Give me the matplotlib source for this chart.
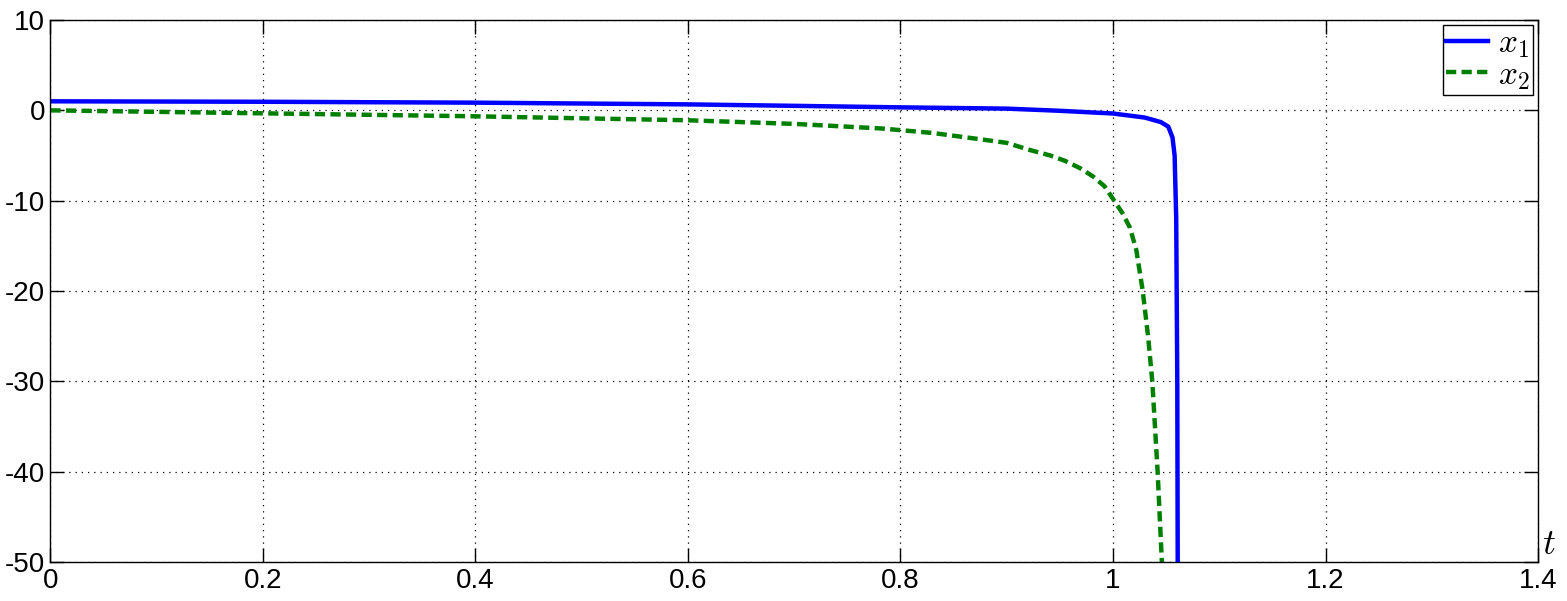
import numpy as np
import matplotlib.pyplot as plt

plt.rcParams['font.family'] = ['Liberation Sans', 'DejaVu Sans']
plt.rcParams['mathtext.fontset'] = 'cm'
plt.rcParams['axes.unicode_minus'] = False

# x1 (сплошная синяя)
t1 = [0.0, 0.2, 0.4, 0.6, 0.7, 0.8, 0.9, 0.95, 1.0, 1.03, 1.045, 1.052, 1.056, 1.058, 1.0595, 1.0605, 1.061]
x1 = [1.0, 0.95, 0.85, 0.66, 0.5, 0.33, 0.19, -0.05, -0.35, -0.8, -1.3, -1.8, -3.0, -5.0, -12.0, -30.0, -55.0]

# x2 (пунктир зелёный)
t2 = [0.0, 0.2, 0.4, 0.6, 0.7, 0.781, 0.83, 0.875, 0.9, 0.922, 0.941, 0.955, 0.969, 0.981, 0.992,
      1.0, 1.009, 1.016, 1.022, 1.028, 1.033, 1.037, 1.042, 1.046, 1.047]
x2 = [0.0, -0.33, -0.66, -1.1, -1.5, -2.0, -2.5, -3.2, -3.6, -4.4, -5.0, -5.6, -6.4, -7.3, -8.4,
      -9.8, -11.4, -13.0, -15.5, -20.0, -25.0, -30.0, -40.0, -50.0, -55.0]

xticks = [0, 0.2, 0.4, 0.6, 0.8, 1, 1.2, 1.4]
xticklabels = ['0', '0.2', '0.4', '0.6', '0.8', '1', '1.2', '1.4']
yticks = [-50, -40, -30, -20, -10, 0, 10]

fig = plt.figure(figsize=(15.67, 6.01), dpi=100)
ax = fig.add_axes([0.0322, 0.0649, 0.9493, 0.9018])
ax.plot(t1, x1, color='#0000ff', lw=3.2, label='$x_1$')
ax.plot(t2, x2, color='#007f00', lw=3.2, ls=(0, (2.3, 1.2)), label='$x_2$')

ax.set_xlim(0, 1.4)
ax.set_ylim(-50, 10)
ax.set_xticks(xticks)
ax.set_xticklabels(xticklabels)
ax.set_yticks(yticks)
ax.grid(True, color='black', ls=(0, (1, 4)), lw=0.9)
ax.tick_params(direction='in', top=True, right=True, labelsize=20, length=10, width=1, pad=4)
for s in ax.spines.values():
    s.set_linewidth(1)
ax.text(1.003, 0.0, '$t$', transform=ax.transAxes, fontsize=26, ha='left', va='bottom')

leg = ax.legend(loc='upper right', fontsize=24, handlelength=1.25, borderaxespad=0.15,
                fancybox=False, framealpha=1, edgecolor='black', borderpad=0.1,
                labelspacing=0.0, handletextpad=0.3)
leg.get_frame().set_linewidth(1)

fig.savefig('out.png', dpi=100)
